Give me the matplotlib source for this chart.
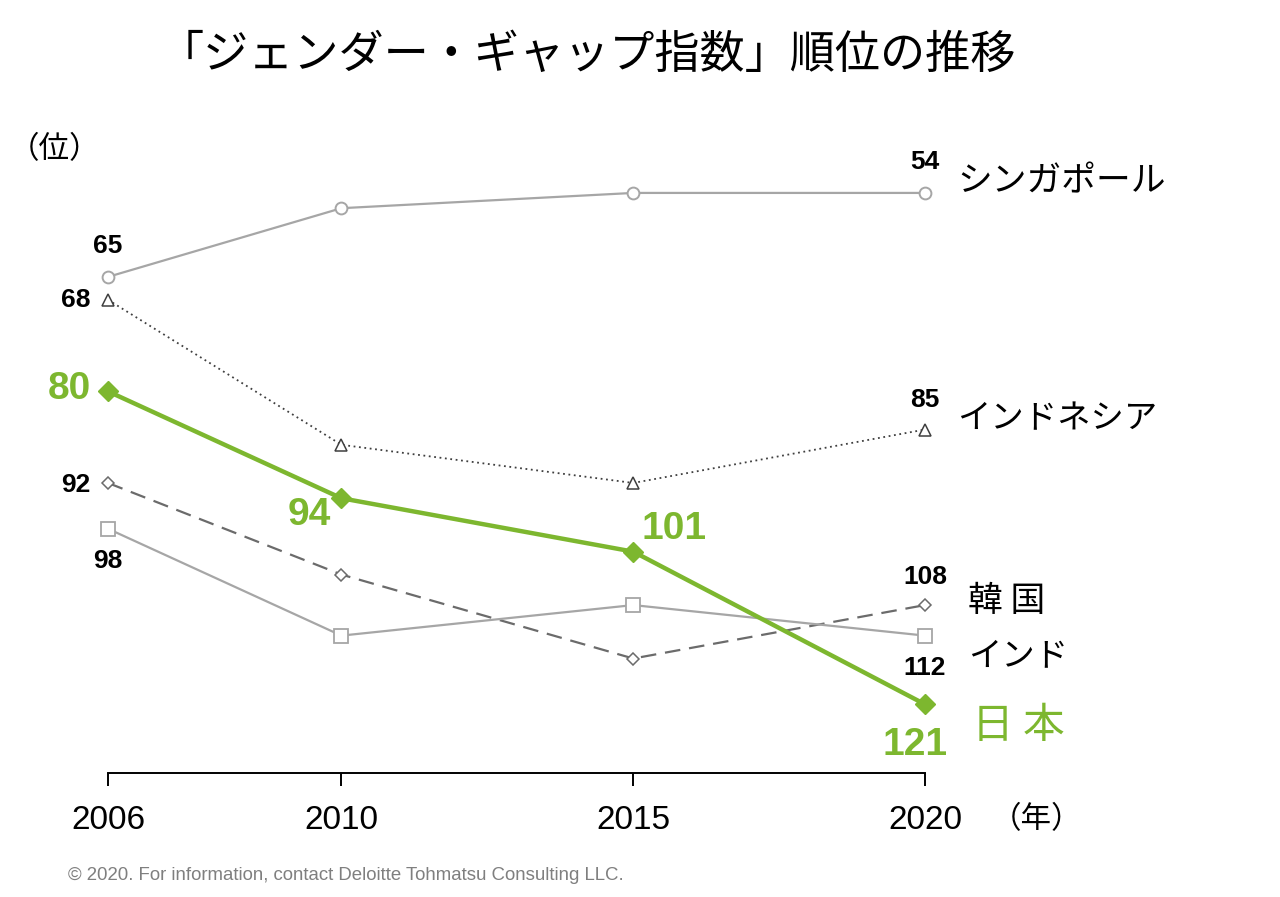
import matplotlib
matplotlib.use("Agg")
import matplotlib.pyplot as plt

plt.rcParams['font.family'] = ['Liberation Sans', 'Noto Sans CJK JP', 'DejaVu Sans']
JP = ['Noto Sans CJK JP', 'DejaVu Sans']

years = [2006, 2010, 2015, 2020]
singapore = [65, 56, 54, 54]
indonesia = [68, 87, 92, 85]
korea = [92, 104, 115, 108]
india = [98, 112, 108, 112]
japan = [80, 94, 101, 121]

country_names = ['シンガポール', 'インドネシア', '韓 国', 'インド', '日 本']
title = '「ジェンダー・ギャップ指数」順位の推移'
y_unit = '（位）'
x_unit = '（年）'
credit = '© 2020. For information, contact Deloitte Tohmatsu Consulting LLC.'

GREEN = '#7DB72F'
LGRAY = '#A6A6A6'
DGRAY = '#3F3F3F'
MGRAY = '#6B6B6B'

fig = plt.figure(figsize=(12.8, 8.97), dpi=100)
ax = fig.add_axes([108/1280, 1-773/897, (925-108)/1280, (773-162.4)/897])
ax.set_xlim(2006, 2020)
ax.set_ylim(130, 50)

ax.plot(years, singapore, color=LGRAY, lw=1.6, marker='o', ms=8.5,
        mfc='white', mec=LGRAY, mew=1.4, clip_on=False, zorder=3)
ax.plot(years, indonesia, color=DGRAY, lw=1.3, linestyle=(0, (1, 2.0)), marker='^', ms=8,
        mfc='white', mec=DGRAY, mew=1.1, clip_on=False, zorder=3)
ax.plot(years, korea, color=MGRAY, lw=1.6, linestyle=(0, (7, 4)), marker='D', ms=6,
        mfc='white', mec=MGRAY, mew=1.1, clip_on=False, zorder=3)
ax.plot(years, india, color=LGRAY, lw=1.6, marker='s', ms=9.5,
        mfc='white', mec=LGRAY, mew=1.3, clip_on=False, zorder=3)
ax.plot(years, japan, color=GREEN, lw=3.2, marker='D', ms=10,
        mfc=GREEN, mec=GREEN, clip_on=False, zorder=5)

def lab(x, y, dx, dy, color='black', size=19, ha='center'):
    ax.annotate(f'{y}', xy=(x, y), xytext=(dx, dy), textcoords='offset pixels',
                ha=ha, va='center', fontsize=size, fontweight='bold', color=color,
                annotation_clip=False, zorder=6)

# Singapore
lab(years[0], singapore[0], 0, 31)
lab(years[3], singapore[3], 0, 31)
# Indonesia
lab(years[0], indonesia[0], -18, 0, ha='right')
lab(years[3], indonesia[3], 0, 30)
# Korea
lab(years[0], korea[0], -18, -2, ha='right')
lab(years[3], korea[3], 0, 28)
# India
lab(years[0], india[0], 0, -32)
lab(years[3], india[3], 0, -32)
# Japan
lab(years[0], japan[0], -17, 2, color=GREEN, size=28, ha='right')
lab(years[1], japan[1], -32, -17, color=GREEN, size=28)
lab(years[2], japan[2], 41, 23, color=GREEN, size=28)
lab(years[3], japan[3], -10, -41, color=GREEN, size=28)

# Country names
last = [singapore[3], indonesia[3], korea[3], india[3], japan[3]]
offs = [(32, 11), (32, 11), (43, 4), (43, -20), (47, -22)]
sizes = [25, 24, 25, 24, 30]
for name, v, (dx, dy), fs in zip(country_names, last, offs, sizes):
    isjp = name == country_names[-1]
    ax.annotate(name, xy=(years[3], v), xytext=(dx, dy), textcoords='offset pixels',
                ha='left', va='center', fontsize=fs,
                color=GREEN if isjp else 'black', family=JP, annotation_clip=False)

for s in ['left', 'top', 'right']:
    ax.spines[s].set_visible(False)
ax.spines['bottom'].set_linewidth(1.4)
ax.set_yticks([])
ax.set_xticks(years)
ax.set_xticklabels([str(y) for y in years])
ax.tick_params(axis='x', direction='out', length=9, width=1.4, pad=14, labelsize=24)

fig.text(587/1280, 1-55/897, title, ha='center', va='center', fontsize=32.5, family=JP)
fig.text(55/1280, 1-150/897, y_unit, ha='center', va='center', fontsize=22, family=JP)
fig.text(1036/1280, 1-820/897, x_unit, ha='center', va='center', fontsize=22, family=JP)
fig.text(68/1280, 1-875/897, credit, ha='left', va='center', fontsize=13.4, color='#7F7F7F')

fig.savefig('out.png', dpi=100)
